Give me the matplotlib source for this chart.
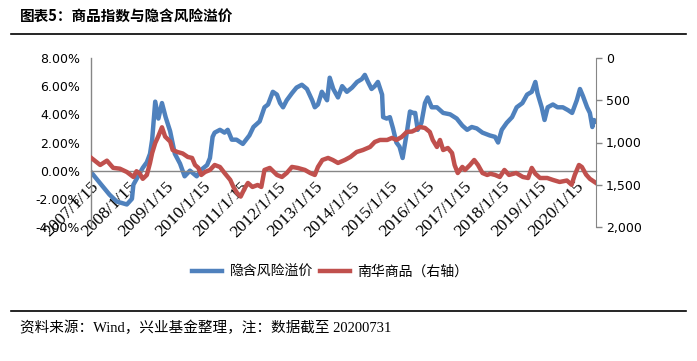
import matplotlib
# no display in the sandbox
matplotlib.use('Agg')
import matplotlib.pyplot as plt
import matplotlib.dates as mdates
from matplotlib.lines import Line2D
from matplotlib.ticker import FuncFormatter, FixedLocator
import pandas as pd

# implied risk premium (left axis, %)
premium_dates = [
    '2007-01-15', '2007-04-15', '2007-07-15', '2007-09-25', '2007-11-15', '2008-01-01',
    '2008-02-20', '2008-03-05', '2008-05-05', '2008-06-05', '2008-07-15', '2008-08-15',
    '2008-09-05', '2008-09-15', '2008-10-05', '2008-11-05', '2008-12-10', '2009-01-15',
    '2009-02-28', '2009-04-15', '2009-06-05', '2009-07-20', '2009-09-10', '2009-11-15',
    '2010-01-05', '2010-02-25', '2010-03-25', '2010-04-20', '2010-05-10', '2010-07-01',
    '2010-08-15', '2010-09-15', '2010-10-25', '2010-12-10', '2011-02-10', '2011-04-15',
    '2011-05-25', '2011-07-25', '2011-09-10', '2011-10-15', '2011-12-01', '2012-01-10',
    '2012-02-10', '2012-03-10', '2012-04-15', '2012-06-05', '2012-07-20', '2012-09-10',
    '2012-10-30', '2012-12-20', '2013-01-15', '2013-02-15', '2013-03-25', '2013-05-15',
    '2013-06-10', '2013-07-15', '2013-08-30', '2013-10-10', '2013-11-25', '2014-01-15',
    '2014-03-05', '2014-04-20', '2014-05-20', '2014-06-20', '2014-07-25', '2014-08-25',
    '2014-09-25', '2014-11-05', '2014-11-15', '2014-12-20', '2015-01-20', '2015-02-20',
    '2015-03-25', '2015-04-25', '2015-05-25', '2015-07-05', '2015-08-05', '2015-09-05',
    '2015-09-25', '2015-10-20', '2015-11-25', '2015-12-30', '2016-01-25', '2016-03-05',
    '2016-04-25', '2016-06-25', '2016-09-01', '2016-11-05', '2016-12-30', '2017-02-15',
    '2017-04-01', '2017-05-20', '2017-07-15', '2017-09-25', '2017-11-15', '2017-12-15',
    '2018-01-20', '2018-03-10', '2018-05-01', '2018-06-15', '2018-08-10', '2018-09-25',
    '2018-11-10', '2018-12-15', '2019-01-05', '2019-02-15', '2019-03-15', '2019-04-15',
    '2019-06-05', '2019-07-20', '2019-09-10', '2019-10-30', '2019-12-10', '2020-01-25',
    '2020-02-25', '2020-03-25', '2020-05-05', '2020-06-01', '2020-06-25', '2020-07-10',
    '2020-07-31',
]
premium_values = [
    -0.1, -0.9, -1.7, -2.2, -2.3, -2.4,
    -2.0, -1.0, -0.2, 0.2, 0.6, 1.2,
    2.2, 3.1, 4.9, 3.7, 4.8, 3.8,
    2.8, 1.2, 0.5, -0.4, 0.0, -0.4,
    0.1, 0.4, 0.9, 2.4, 2.7, 2.9,
    2.7, 2.9, 2.2, 2.2, 1.9, 2.5,
    3.1, 3.5, 4.5, 4.7, 5.6, 5.4,
    4.8, 4.5, 5.0, 5.5, 5.9, 6.1,
    5.8, 5.0, 4.5, 4.7, 5.6, 5.0,
    6.6, 5.8, 5.2, 6.0, 5.6, 5.9,
    6.3, 6.5, 6.8, 6.3, 5.8, 6.0,
    6.3, 5.4, 3.8, 3.7, 3.8, 3.0,
    2.0, 1.7, 0.9, 2.7, 4.2, 4.1,
    4.1, 2.9, 3.4, 4.8, 5.2, 4.5,
    4.5, 4.1, 4.0, 3.7, 3.2, 2.9,
    3.1, 3.0, 2.7, 2.5, 2.4, 2.0,
    2.9, 3.4, 3.8, 4.5, 4.8, 5.4,
    5.6, 6.3, 5.5, 4.5, 3.6, 4.5,
    4.7, 4.5, 4.5, 4.3, 4.1, 5.0,
    5.8, 5.3, 4.5, 4.1, 3.1, 3.6,
    3.5,
]

# Nanhua commodity index (right axis, inverted)
nanhua_dates = [
    '2007-01-15', '2007-04-15', '2007-06-20', '2007-08-20', '2007-10-25', '2008-01-01',
    '2008-03-05', '2008-04-05', '2008-05-05', '2008-06-05', '2008-07-15', '2008-08-15',
    '2008-09-05', '2008-10-05', '2008-11-01', '2008-12-10', '2009-01-10', '2009-03-01',
    '2009-03-25', '2009-05-10', '2009-07-01', '2009-08-20', '2009-10-01', '2009-10-30',
    '2009-12-01', '2009-12-30', '2010-02-05', '2010-03-25', '2010-05-10', '2010-07-01',
    '2010-08-15', '2010-10-10', '2010-11-10', '2010-12-15', '2011-01-20', '2011-03-01',
    '2011-04-01', '2011-05-15', '2011-07-05', '2011-08-10', '2011-09-10', '2011-11-01',
    '2012-01-10', '2012-02-28', '2012-04-15', '2012-06-05', '2012-08-01', '2012-10-10',
    '2012-12-01', '2013-01-15', '2013-02-15', '2013-03-30', '2013-05-25', '2013-07-10',
    '2013-08-30', '2013-11-05', '2013-12-30', '2014-03-01', '2014-05-01', '2014-07-10',
    '2014-08-25', '2014-10-15', '2014-12-25', '2015-02-10', '2015-03-25', '2015-05-15',
    '2015-07-05', '2015-08-25', '2015-09-25', '2015-11-10', '2015-12-30', '2016-02-15',
    '2016-03-15', '2016-04-25', '2016-05-25', '2016-06-25', '2016-08-10', '2016-09-20',
    '2016-10-15', '2016-11-15', '2016-12-30', '2017-01-25', '2017-03-15', '2017-04-25',
    '2017-06-01', '2017-07-15', '2017-08-30', '2017-10-01', '2017-11-15', '2018-01-01',
    '2018-02-15', '2018-04-01', '2018-06-10', '2018-08-15', '2018-10-05', '2018-11-10',
    '2018-12-15', '2019-01-30', '2019-04-10', '2019-06-05', '2019-08-10', '2019-10-20',
    '2019-12-05', '2020-01-05', '2020-02-15', '2020-03-15', '2020-04-25', '2020-06-01',
    '2020-07-31',
]
nanhua_values = [
    1180, 1266, 1215, 1300, 1310, 1349,
    1408, 1340, 1365, 1430, 1384, 1242,
    1124, 1006, 935, 820, 930, 990,
    1089, 1112, 1130, 1171, 1183, 1266,
    1300, 1384, 1349, 1325, 1266, 1290,
    1361, 1443, 1526, 1597, 1640, 1540,
    1479, 1526, 1503, 1526, 1325, 1301,
    1384, 1408, 1361, 1289, 1301, 1325,
    1361, 1384, 1289, 1207, 1183, 1207,
    1242, 1207, 1171, 1112, 1089, 1053,
    994, 970, 970, 946, 970, 935,
    875, 870, 852, 816, 828, 875,
    970, 1053, 970, 1089, 1065, 1124,
    1266, 1361, 1289, 1325, 1266, 1207,
    1266, 1361, 1384, 1370, 1384, 1408,
    1325, 1384, 1361, 1408, 1420, 1301,
    1370, 1420, 1420, 1443, 1467, 1450,
    1500, 1384, 1266, 1290, 1380, 1430,
    1479,
]

tick_years = list(range(2007, 2021))
tick_labels = [f'{y}/1/15' for y in tick_years]
left_ticks = [-4, -2, 0, 2, 4, 6, 8]
right_ticks = [0, 500, 1000, 1500, 2000]

BLUE = '#4F81BD'
RED = '#C0504D'
GREY = '#868686'
CJK = ['Noto Sans CJK SC', 'DejaVu Sans']


def makePlot():
    W, H = 697, 361
    fig = plt.figure(figsize=(W / 100, H / 100), dpi=100)
    ax = fig.add_axes([91 / W, 1 - 227 / H, (596 - 91) / W, (227 - 58) / H])
    ax2 = ax.twinx()

    x1 = pd.to_datetime(premium_dates)
    x2 = pd.to_datetime(nanhua_dates)
    l1, = ax.plot(x1, premium_values, color=BLUE, lw=3.2, solid_joinstyle='round')
    l2, = ax2.plot(x2, nanhua_values, color=RED, lw=3.2, solid_joinstyle='round')

    ax.set_xlim(pd.Timestamp('2007-01-15'), pd.Timestamp('2020-07-31'))
    ax.set_ylim(-4, 8)
    ax2.set_ylim(2000, 0)

    # left axis
    ax.yaxis.set_major_locator(FixedLocator(left_ticks))
    ax.yaxis.set_major_formatter(FuncFormatter(lambda v, p: f'{v:.2f}%'))
    ax.tick_params(axis='y', length=0, pad=8, labelsize=9)

    # category axis crosses at 0%
    ax.spines['bottom'].set_position(('data', 0))
    ax.xaxis.set_major_locator(FixedLocator(
        [mdates.date2num(pd.Timestamp(f'{y}-01-15')) for y in tick_years]))
    ax.set_xticklabels(tick_labels, rotation=45, ha='right', va='top',
                       rotation_mode='anchor', family='Liberation Serif')
    ax.tick_params(axis='x', length=0, pad=6, labelsize=12.5)

    for s in ['top', 'right']:
        ax.spines[s].set_visible(False)
    for s in ['left', 'bottom']:
        ax.spines[s].set_color(GREY)
        ax.spines[s].set_linewidth(1.0)

    # right axis
    for s in ['top', 'left', 'bottom']:
        ax2.spines[s].set_visible(False)
    ax2.spines['right'].set_color(GREY)
    ax2.yaxis.set_major_locator(FixedLocator(right_ticks))
    ax2.yaxis.set_major_formatter(FuncFormatter(lambda v, p: f'{v:,.0f}'))
    ax2.tick_params(axis='y', length=4, width=1, color=GREY, pad=3, labelsize=9)

    fig.legend([l1, l2], ['隐含风险溢价', '南华商品（右轴）'], loc='center',
               bbox_to_anchor=(330 / W, 1 - 272 / H), ncol=2, frameon=False,
               handlelength=2.2, handletextpad=0.5, columnspacing=0.5,
               prop={'family': CJK, 'size': 10})

    # header / footer
    fig.text(20 / W, 1 - 17 / H, '图表5：商品指数与隐含风险溢价', fontsize=10.5,
             fontweight='bold', family=CJK, va='center', ha='left')
    fig.add_artist(Line2D([11 / W, 686 / W], [1 - 34 / H] * 2, color='black', lw=1.2))
    fig.add_artist(Line2D([11 / W, 686 / W], [1 - 311 / H] * 2, color='black', lw=1.2))
    fig.text(20 / W, 1 - 328 / H, '资料来源：Wind，兴业基金整理，注：数据截至 20200731',
             fontsize=10.5, family=['Liberation Serif', 'Noto Sans CJK SC'],
             va='center', ha='left')

    fig.savefig('out.png', dpi=100)


def main():
    makePlot()


if __name__ == "__main__":
    main()
